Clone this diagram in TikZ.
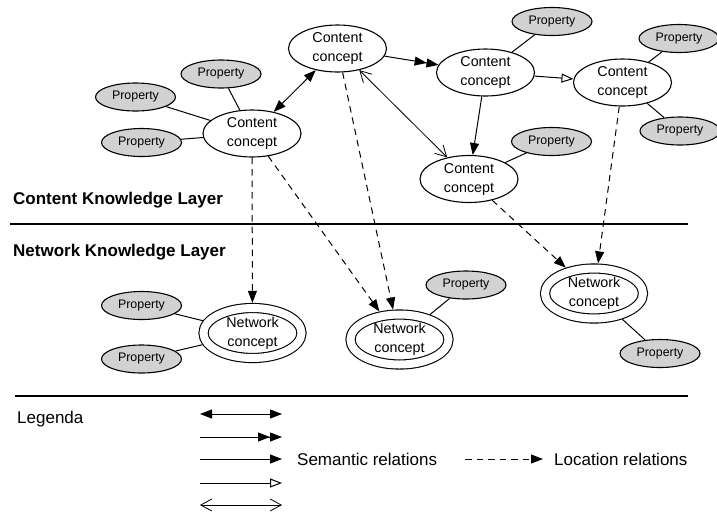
\documentclass[tikz,border=0pt]{standalone}
\usepackage{fontspec}
\setmainfont{Liberation Sans}
\usetikzlibrary{shapes.geometric,arrows.meta}

\tikzset{
  concept/.style={ellipse, draw, line width=1.1pt, fill=white,
    minimum width=98pt, minimum height=47pt, inner sep=0pt, align=center,
    font=\fontsize{14.3}{19}\selectfont},
  netconcept/.style={concept, double, double distance=8pt,
    minimum width=98pt, minimum height=50pt, outer sep=5.2pt},
  prop/.style={ellipse, draw, line width=1.1pt, fill=gray!35,
    minimum width=80pt, minimum height=28pt, inner sep=0pt,
    font=\fontsize{12.4}{15}\selectfont},
  layer/.style={anchor=base west, inner sep=0pt, font=\fontsize{17}{20}\bfseries\selectfont},
  legtext/.style={anchor=base west, inner sep=0pt, font=\fontsize{17}{20}\selectfont},
  link/.style={line width=1pt},
  bothfilled/.style={link, {Triangle[length=12pt,width=9pt]}-{Triangle[length=12pt,width=9pt]}},
  doublehead/.style={link, -{Triangle[length=12pt,width=9pt] Triangle[length=12pt,width=9pt]}},
  filled/.style={link, -{Triangle[length=12pt,width=9pt]}},
  opentri/.style={link, -{Triangle[open,length=12pt,width=9pt,line width=1pt]}},
  bothbarb/.style={line width=0.8pt, {Straight Barb[length=11pt,width=12pt]}-{Straight Barb[length=11pt,width=12pt]}},
  location/.style={line width=1pt, dash pattern=on 6.5pt off 5pt,
    -{Triangle[length=12pt,width=9pt]}}
}

\begin{document}
\begin{tikzpicture}[x=1pt,y=-1pt]
\useasboundingbox (0,0) rectangle (717,515);

% content concepts
\node[concept] (cc1) at (252,133.5) {Content\\concept};
\node[concept] (cc2) at (337.5,48.5) {Content\\concept};
\node[concept] (cc3) at (485.5,72.5) {Content\\concept};
\node[concept] (cc4) at (622.5,82.5) {Content\\concept};
\node[concept] (cc5) at (469,179) {Content\\concept};

% network concepts
\node[netconcept] (nc1) at (252.5,333) {Network\\concept};
\node[netconcept] (nc2) at (399.5,339.5) {Network\\concept};
\node[netconcept] (nc3) at (594,293.5) {Network\\concept};

% properties
\node[prop] (p1) at (221,74) {Property};
\node[prop] (p2) at (135.5,97) {Property};
\node[prop] (p3) at (141.5,142.5) {Property};
\node[prop] (p4) at (552,21.5) {Property};
\node[prop] (p5) at (679,38.5) {Property};
\node[prop] (p6) at (680,131) {Property};
\node[prop] (p7) at (551.5,141.5) {Property};
\node[prop] (p8) at (141.5,305.5) {Property};
\node[prop] (p9) at (141.5,359) {Property};
\node[prop] (p10) at (466,285) {Property};
\node[prop] (p11) at (660,353.5) {Property};

% property links
\draw[link] (p1) -- (cc1);
\draw[link] (p2) -- (cc1);
\draw[link] (p3) -- (cc1);
\draw[link] (p4) -- (cc3);
\draw[link] (p5) -- (cc4);
\draw[link] (p6) -- (cc4);
\draw[link] (p7) -- (cc5);
\draw[link] (p8) -- (nc1);
\draw[link] (p9) -- (nc1);
\draw[link] (p10) -- (nc2);
\draw[link] (p11) -- (nc3);

% semantic relations
\draw[bothfilled] (cc1) -- (cc2);
\draw[doublehead] (cc2) -- (cc3);
\draw[opentri] (cc3) -- (cc4);
\draw[filled] (cc3) -- (cc5);
\draw[bothbarb] (cc2) -- (cc5);

% location relations
\draw[location] (cc1) -- (nc1);
\draw[location] (cc1) -- (nc2);
\draw[location] (cc2) -- (nc2);
\draw[location] (cc5) -- (nc3);
\draw[location] (cc4) -- (nc3);

% layer separator
\coordinate (sepL) at (10,224);
\coordinate (sepR) at (688,224);
\draw[line width=2.2pt] (sepL) -- (sepR);
\node[layer] (clayer) at (13,204) {Content Knowledge Layer};
\node[layer] (nlayer) at (13,256) {Network Knowledge Layer};

% legend
\coordinate (legL) at (15,396);
\coordinate (legR) at (688,396);
\draw[line width=1.1pt] (legL) -- (legR);
\node[legtext] (legenda) at (17,423) {Legenda};

\coordinate (a1) at (200,414); \coordinate (b1) at (282,414);
\coordinate (a2) at (200,437); \coordinate (b2) at (282,437);
\coordinate (a3) at (200,459); \coordinate (b3) at (282,459);
\coordinate (a4) at (200,483); \coordinate (b4) at (282,483);
\coordinate (a5) at (200,505); \coordinate (b5) at (282,505);
\draw[bothfilled] (a1) -- (b1);
\draw[doublehead] (a2) -- (b2);
\draw[filled] (a3) -- (b3);
\draw[opentri] (a4) -- (b4);
\draw[bothbarb] (a5) -- (b5);
\node[legtext] (semtext) at (297,465) {Semantic relations};

\coordinate (la) at (465,459); \coordinate (lb) at (543,459);
\draw[location] (la) -- (lb);
\node[legtext] (loctext) at (554,465) {Location relations};
\end{tikzpicture}
\end{document}
